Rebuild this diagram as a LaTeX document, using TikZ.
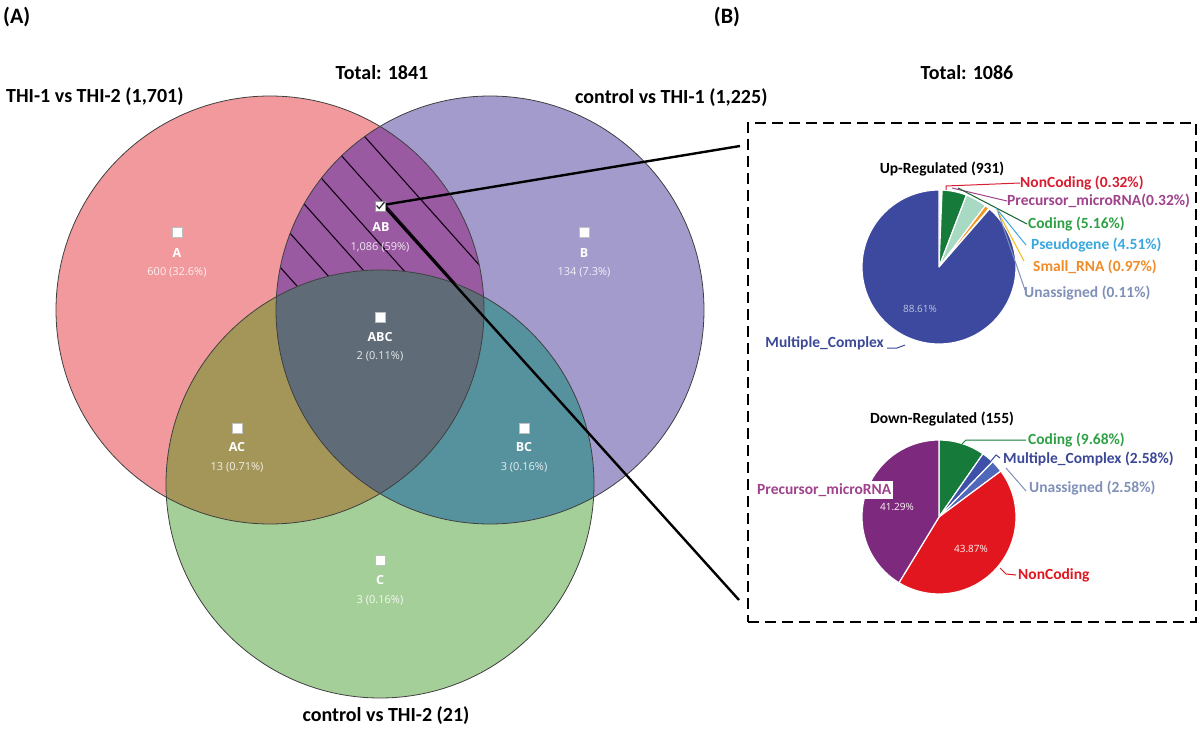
\documentclass[tikz,border=0pt]{standalone}
\usepackage{fontspec}
\setmainfont{Carlito}
\newfontfamily\osans{Open Sans}
\definecolor{cA}{RGB}{241,153,156}
\definecolor{cB}{RGB}{162,155,204}
\definecolor{cC}{RGB}{165,207,152}
\definecolor{cAB}{RGB}{153,90,161}
\definecolor{cAC}{RGB}{164,150,88}
\definecolor{cBC}{RGB}{86,145,158}
\definecolor{cABC}{RGB}{95,107,118}
\definecolor{pMC}{RGB}{61,73,158}
\definecolor{pCod}{RGB}{22,122,58}
\definecolor{pPse}{RGB}{168,217,195}
\definecolor{pSml}{RGB}{243,150,30}
\definecolor{pUna}{RGB}{140,156,200}
\definecolor{pNon}{RGB}{226,22,30}
\definecolor{pPre}{RGB}{125,42,126}
\definecolor{pMCd}{RGB}{62,80,168}
\definecolor{pUnad}{RGB}{80,104,186}
\definecolor{tNon}{RGB}{216,30,50}
\definecolor{tPre}{RGB}{160,66,140}
\definecolor{tCod}{RGB}{48,160,70}
\definecolor{tPse}{RGB}{56,168,224}
\definecolor{tSml}{RGB}{240,140,40}
\definecolor{tUna}{RGB}{128,144,184}
\definecolor{tMC}{RGB}{60,72,152}
\tikzset{
  ttl/.style={font=\fontsize{20}{24}\selectfont\bfseries, inner sep=0},
  ptl/.style={font=\fontsize{15.5}{18}\selectfont\bfseries, inner sep=0},
  plab/.style={font=\fontsize{15.5}{18}\selectfont\bfseries, inner sep=0, anchor=west},
  sq/.style={fill=white, draw=black!25, line width=0.4, minimum size=10, inner sep=0},
  vlet/.style={font=\osans\fontsize{12.5}{14}\selectfont\bfseries, text=white, inner sep=0},
  vnum/.style={font=\osans\fontsize{11}{13}\selectfont, text=white, text opacity=0.85, inner sep=0},
  pin/.style={font=\osans\fontsize{10}{12}\selectfont, inner sep=0},
  outline/.style={draw=black!75, line width=0.8},
  hatch/.style={draw=black!85!violet, line width=1.1},
  conn/.style={draw=black, line width=2.4},
  leader/.style={line width=1},
  zbox/.style={draw=black, line width=2.2, dash pattern=on 11pt off 6pt, minimum width=448, minimum height=499, inner sep=0},
  wedge/.style={line width=1.2, draw=white, line join=round}
}
\def\circA{(270,310) circle[radius=214]}
\def\circB{(490,310) circle[radius=214]}
\def\circC{(380,484) circle[radius=214]}
\begin{document}
\begin{tikzpicture}[x=1pt,y=-1pt]
\useasboundingbox (0,0) rectangle (1200,730);
\fill[white] (0,0) rectangle (1200,730);
% Venn regions
\fill[cA] \circA;
\fill[cB] \circB;
\fill[cC] \circC;
\begin{scope}
  \clip \circA;
  \fill[cAB] \circB;
\end{scope}
\begin{scope}
  \clip \circA; \clip \circB;
  \foreach \k in {-9,...,9}
    \draw[hatch] (365+22.38*\k-200, 137-19.98*\k-224) -- ++(400,448);
\end{scope}
\begin{scope}
  \clip \circA;
  \fill[cAC] \circC;
\end{scope}
\begin{scope}
  \clip \circB;
  \fill[cBC] \circC;
\end{scope}
\begin{scope}
  \clip \circA; \clip \circB;
  \fill[cABC] \circC;
\end{scope}
\draw[outline] \circA;
\draw[outline] \circB;
\draw[outline] \circC;

% titles
\node[font=\fontsize{22}{26}\selectfont\bfseries, inner sep=0, anchor=west] (labA) at (3,17) {(A)};
\node[font=\fontsize{22}{26}\selectfont\bfseries, inner sep=0] (labB) at (727,17) {(B)};
\node[ttl] (totA) at (382,73) {Total: 1841};
\node[ttl] (totB) at (967,73) {Total: 1086};
\node[ttl, anchor=west] (setA) at (6,97) {THI-1 vs THI-2 (1,701)};
\node[ttl, anchor=west] (setB) at (575,98) {control vs THI-1 (1,225)};
\node[ttl] (setC) at (386,716) {control vs THI-2 (21)};

% Venn inner labels
\node[sq] (sqA) at (177,232) {};
\node[vlet] (lA) at (177,253) {A};
\node[vnum] (nA) at (177,272) {600 (32.6\%)};
\node[sq] (sqB) at (584,232) {};
\node[vlet] (lB) at (584,253) {B};
\node[vnum] (nB) at (584,272) {134 (7.3\%)};
\node[sq] (sqABC) at (380,317) {};
\node[vlet] (lABC) at (380,337) {ABC};
\node[vnum] (nABC) at (380,356) {2 (0.11\%)};
\node[sq] (sqAC) at (237,428) {};
\node[vlet] (lAC) at (237,447) {AC};
\node[vnum] (nAC) at (237,467) {13 (0.71\%)};
\node[sq] (sqBC) at (524,428) {};
\node[vlet] (lBC) at (524,447) {BC};
\node[vnum] (nBC) at (524,467) {3 (0.16\%)};
\node[sq] (sqC) at (380,560) {};
\node[vlet] (lC) at (380,580) {C};
\node[vnum] (nC) at (380,600) {3 (0.16\%)};
\node[vlet] (lAB) at (381,227) {AB};
\node[vnum] (nAB) at (380,247) {1,086 (59\%)};

% zoom box and connectors
\node[zbox] (zoom) at (972,372.5) {};
\coordinate (abpt) at (383,205);
\coordinate (zt) at (740,146);
\coordinate (zb) at (739,600);
\draw[conn] (abpt) -- (zt);
\draw[conn] (abpt) -- (zb);
\node[sq, draw=black!40] (chkAB) at (380,206) {};
\draw[black!80, line width=1.3] ([xshift=-3.5pt, yshift=0.5pt]chkAB.center) -- ([xshift=-0.8pt, yshift=-2.5pt]chkAB.center) -- ([xshift=4.5pt, yshift=4pt]chkAB.center);

% Up-regulated pie
\node[ptl] (upT) at (942,169) {Up-Regulated (931)};
\begin{scope}[shift={(939,267)}, y=1pt]
  \foreach \a/\b/\c in {90/88.85/pNon, 88.85/87.7/pPre, 87.7/69.1/pCod, 69.1/52.9/pPse, 52.9/49.4/pSml, 49.4/49.0/pUna, 49.0/-270/pMC}
    \fill[\c, wedge] (0,0) -- (\a:77) arc[start angle=\a, end angle=\b, radius=77] -- cycle;
\end{scope}
\node[pin, text=pUna!60!white] (upMCp) at (920,309) {88.61\%};
\node[plab, text=tNon] (uNon) at (1020,183) {NonCoding (0.32\%)};
\node[plab, text=tPre] (uPre) at (1007,201) {Precursor\_microRNA(0.32\%)};
\node[plab, text=tCod] (uCod) at (1028,224) {Coding (5.16\%)};
\node[plab, text=tPse] (uPse) at (1031,245) {Pseudogene (4.51\%)};
\node[plab, text=tSml] (uSml) at (1033,267) {Small\_RNA (0.97\%)};
\node[plab, text=tUna] (uUna) at (1024,293) {Unassigned (0.11\%)};
\node[plab, anchor=east, text=tMC] (uMC) at (884,343) {Multiple\_Complex};
\coordinate (pNon1) at (946,190);
\coordinate (pPre1) at (952,188);
\coordinate (pCod1) at (958,188);
\coordinate (pPse1) at (996,208);
\coordinate (pSml1) at (997,210);
\coordinate (pUna1) at (998,212);
\coordinate (pMC1) at (905,345);
\draw[leader, tNon] (pNon1) -- ++(0,-4) -- (uNon.west);
\draw[leader, tPre] (pPre1) -- (uPre.west);
\draw[leader, pCod!80!black] (pCod1) -- ([xshift=-1pt]uCod.west);
\draw[leader, tPse] (pPse1) -- ([xshift=-5pt]uPse.west);
\draw[leader, tSml!60!yellow] (pSml1) -- ([xshift=-9pt, yshift=6pt]uSml.west);
\draw[leader, tUna] (pUna1) -- ([xshift=1pt, yshift=3pt]uUna.west);
\draw[leader, tMC] (uMC.east) ++(3,5) -- ++(10,0) -- (pMC1);

% Down-regulated pie
\node[ptl] (dnT) at (942,419) {Down-Regulated (155)};
\begin{scope}[shift={(939,517)}, y=1pt]
  \foreach \a/\b/\c in {90/55.15/pCod, 55.15/45.86/pMCd, 45.86/36.58/pUnad, 36.58/-121.35/pNon, -121.35/-270/pPre}
    \fill[\c, wedge] (0,0) -- (\a:77) arc[start angle=\a, end angle=\b, radius=77] -- cycle;
\end{scope}
\node[pin, text=white!85!pink] (dPrep) at (897,507) {41.29\%};
\node[pin, text=white!80!pink] (dNonp) at (971,549) {43.87\%};
\node[plab, text=tCod] (dCod) at (1028,440) {Coding (9.68\%)};
\node[plab, text=tMC] (dMC) at (1003,459) {Multiple\_Complex (2.58\%)};
\node[plab, text=tUna] (dUna) at (1029,488) {Unassigned (2.58\%)};
\node[plab, text=tPre, fill=white, inner sep=2pt] (dPre) at (755,490) {Precursor\_microRNA};
\node[plab, text=pNon] (dNon) at (1018,575) {NonCoding};
\coordinate (qCod) at (962,444);
\coordinate (qMC) at (991,461);
\coordinate (qUna) at (1006,468);
\coordinate (qNon) at (1000,568);
\draw[leader, pCod] (qCod) -- ++(4,-4) -- ([xshift=-2pt]dCod.west);
\draw[leader, tMC] (qMC) -- ++(5,-6) -- ++(4,3);
\draw[leader, tUna] (qUna) -- ([xshift=-3pt, yshift=-3pt]dUna.west);
\draw[leader, pNon] (qNon) -- ++(6,6) -- ([xshift=-2pt]dNon.west);
\end{tikzpicture}
\end{document}
